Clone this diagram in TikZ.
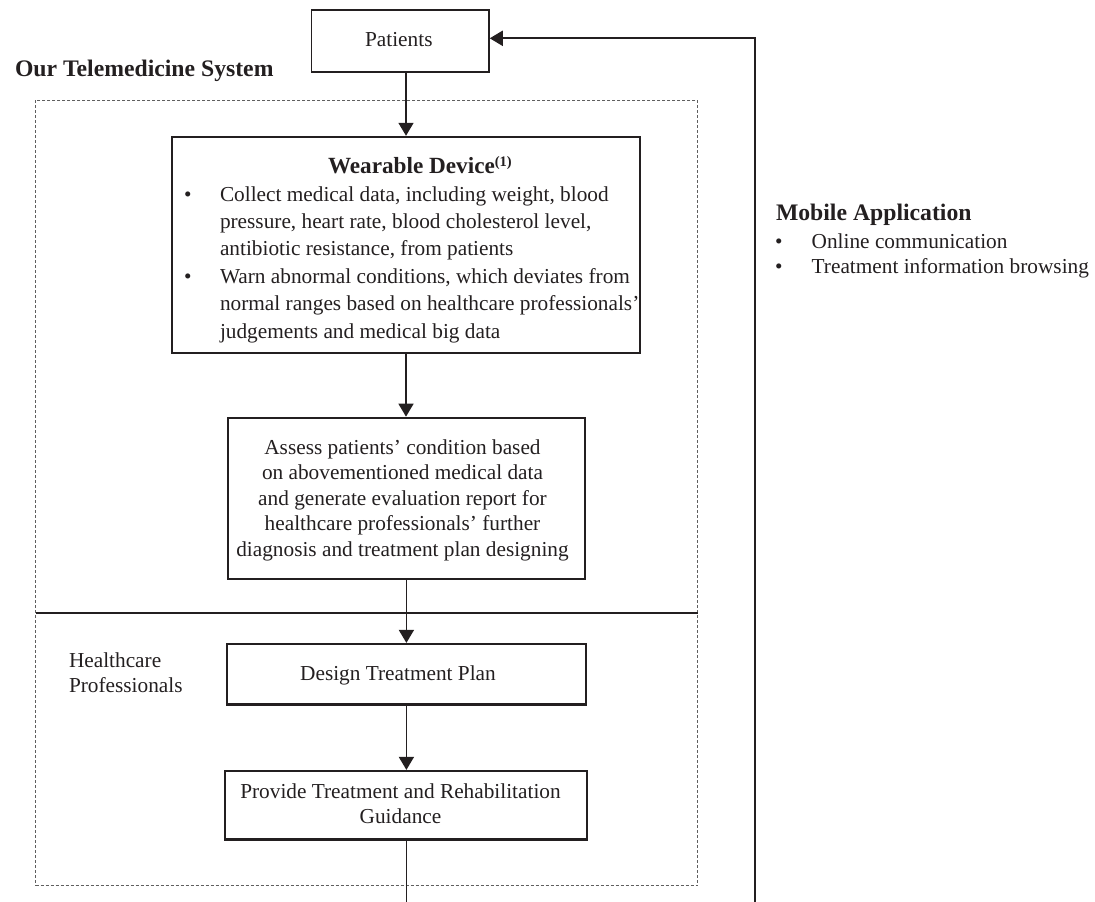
\documentclass[tikz,border=0pt]{standalone}
\usepackage{fontspec}
\setmainfont{Liberation Serif}
\usetikzlibrary{arrows.meta}

\definecolor{ink}{RGB}{35,31,32}
\definecolor{framegray}{RGB}{95,95,95}

% font sizes used in the chart
\newcommand{\regtext}{\fontsize{21.3}{25.6}\selectfont}
\newcommand{\headtext}{\fontsize{23.7}{28}\selectfont\bfseries}

\tikzset{
  box/.style={draw=ink, line width=#1, inner sep=0pt},
  box/.default=2.3pt,
  txt/.style={inner sep=0pt, outer sep=0pt, text=ink},
  link/.style={draw=ink, line width=1.6pt, -{Triangle[length=13pt,width=15pt]}},
  plainlink/.style={draw=ink, line width=1.6pt},
  loopline/.style={draw=ink, line width=2pt, -{Triangle[length=13pt,width=15pt]}},
  divider/.style={draw=ink, line width=1.8pt},
  sysframe/.style={draw=framegray, line width=0.9pt, dash pattern=on 3pt off 2pt, inner sep=0pt},
}

\begin{document}
\begin{tikzpicture}[x=1pt, y=-1pt]
\useasboundingbox (0,0) rectangle (1095,902);

% dashed frame of the telemedicine system
\node[sysframe, minimum width=662pt, minimum height=785.7pt] (system) at (366.7,492.85) {};
\coordinate (divL) at (35.7,612.7);
\coordinate (divR) at (697.7,612.7);
\draw[divider] (divL) -- (divR);

% boxes
\node[box=1.6pt, minimum width=177.3pt, minimum height=62pt] (patients) at (400.3,41) {};
\node[box=2.4pt, minimum width=468pt, minimum height=215.7pt] (wear) at (406,244.85) {};
\node[box=2.1pt, minimum width=357.3pt, minimum height=161.6pt] (assess) at (406.4,498.5) {};
\node[box=2.3pt, minimum width=359.3pt, minimum height=60.3pt] (design) at (406.4,674.2) {};
\node[box=2.3pt, minimum width=362pt, minimum height=68.3pt] (prov) at (406.3,805.2) {};

% texts
\node[txt, anchor=base] (patientstext) at (398.8,46.7) {\regtext Patients};
\node[txt, anchor=base west] (systitle) at (15,76) {\headtext Our Telemedicine System};

\node[txt, anchor=base west] (weartitle) at (328,173.3)
  {\fontsize{23.2}{28}\selectfont\bfseries Wearable Device\raisebox{7pt}{\fontsize{14.5}{15}\selectfont(1)}};
\node[txt, anchor=base west] (wbul1) at (184,201) {\regtext\textbullet};
\node[txt, anchor=base west] (wtxt1) at (220,201)
  {\parbox[t]{430pt}{\fontsize{21.3}{27.4}\selectfont\raggedright
   Collect medical data, including weight, blood\\
   pressure, heart rate, blood cholesterol level,\\
   antibiotic resistance, from patients}};
\node[txt, anchor=base west] (wbul2) at (184,283.2) {\regtext\textbullet};
\node[txt, anchor=base west] (wtxt2) at (220,283.2)
  {\parbox[t]{430pt}{\fontsize{21.3}{27.4}\selectfont\raggedright
   Warn abnormal conditions, which deviates from\\
   normal ranges based on healthcare professionals'\\
   judgements and medical big data}};

\node[txt, anchor=base] (assesstext) at (402.5,454)
  {\parbox[t]{360pt}{\fontsize{21.3}{25.6}\selectfont\centering
   Assess patients' condition based\\
   on abovementioned medical data\\
   and generate evaluation report for\\
   healthcare professionals' further\\
   diagnosis and treatment plan designing}};

\node[txt, anchor=base] (designtext) at (398,680) {\regtext Design Treatment Plan};

\node[txt, anchor=base] (provtext) at (400.5,798.3)
  {\parbox[t]{360pt}{\fontsize{21.3}{25}\selectfont\centering
   Provide Treatment and Rehabilitation\\ Guidance}};

\node[txt, anchor=base west] (hcp) at (69,667.3)
  {\parbox[t]{160pt}{\fontsize{21.3}{25}\selectfont\raggedright
   Healthcare\\ Professionals}};

% mobile application
\node[txt, anchor=base west] (mobtitle) at (776,220) {\headtext Mobile Application};
\node[txt, anchor=base west] (mbul1) at (775,248.3) {\regtext\textbullet};
\node[txt, anchor=base west] (mtxt1) at (811.7,248.3) {\regtext Online communication};
\node[txt, anchor=base west] (mbul2) at (775,273.3) {\regtext\textbullet};
\node[txt, anchor=base west] (mtxt2) at (811.7,273.3) {\regtext Treatment information browsing};

% connectors
\draw[link] (patients.south -| wear.north) -- (wear.north);
\draw[link] (wear.south) -- (wear.south |- assess.north);
\draw[link] (assess.south) -- (assess.south |- design.north);
\draw[link] (design.south) -- (design.south |- prov.north);
\coordinate (provend) at (406.3,902);
\draw[plainlink] (prov.south) -- (provend);
\coordinate (loopstart) at (755,902);
\draw[loopline] (loopstart) |- ([yshift=2.7pt]patients.east);
\end{tikzpicture}
\end{document}
